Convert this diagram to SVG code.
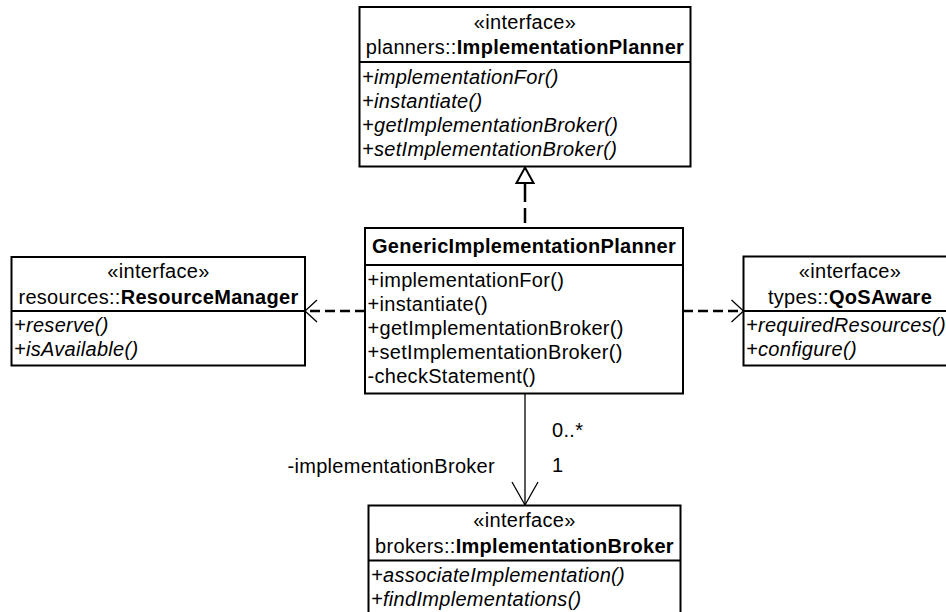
<svg xmlns="http://www.w3.org/2000/svg" width="946" height="612" viewBox="0 0 946 612">
  <style>
    .box { fill: #fff; stroke: #000; stroke-width: 2; }
    .sep { stroke: #000; stroke-width: 2; }
    text { font-family: "Liberation Sans", Arial, Helvetica, sans-serif; font-size: 20px; letter-spacing: 0.3px; fill: #000; }
    .c { text-anchor: middle; }
    .e { text-anchor: end; }
    .b { font-weight: bold; }
    .i { font-style: italic; }
    .dep { stroke: #000; stroke-width: 2.5; stroke-dasharray: 10 5; fill: none; }
    .real { stroke: #000; stroke-width: 2.5; stroke-dasharray: 19 6 15 99; fill: none; }
    .thin { stroke: #000; stroke-width: 1.3; fill: none; }
    .tri { fill: #fff; stroke: #000; stroke-width: 2; stroke-linejoin: miter; }
  </style>

  <!-- interface planners::ImplementationPlanner -->
  <g id="implementation-planner">
    <rect class="box" x="359.5" y="7" width="331" height="159.5"/>
    <line class="sep" x1="359.5" y1="62" x2="690.5" y2="62"/>
    <text class="c" x="525" y="28.5">«interface»</text>
    <text class="c" x="525" y="54">planners::<tspan class="b">ImplementationPlanner</tspan></text>
    <text class="i" x="362" y="83.5">+implementationFor()</text>
    <text class="i" x="362" y="107.5">+instantiate()</text>
    <text class="i" x="362" y="131.5">+getImplementationBroker()</text>
    <text class="i" x="362" y="155.5">+setImplementationBroker()</text>
  </g>

  <!-- class GenericImplementationPlanner -->
  <g id="generic-implementation-planner">
    <rect class="box" x="365" y="228" width="318" height="165.5"/>
    <line class="sep" x1="365" y1="265" x2="683" y2="265"/>
    <text class="c b" x="524" y="253">GenericImplementationPlanner</text>
    <text x="367.5" y="287">+implementationFor()</text>
    <text x="367.5" y="311">+instantiate()</text>
    <text x="367.5" y="335">+getImplementationBroker()</text>
    <text x="367.5" y="359">+setImplementationBroker()</text>
    <text x="367.5" y="383">-checkStatement()</text>
  </g>

  <!-- interface resources::ResourceManager -->
  <g id="resource-manager">
    <rect class="box" x="11.5" y="257" width="293.5" height="108.5"/>
    <line class="sep" x1="11.5" y1="311" x2="305" y2="311"/>
    <text class="c" x="158.5" y="278">«interface»</text>
    <text class="c" x="158.5" y="304">resources::<tspan class="b">ResourceManager</tspan></text>
    <text class="i" x="14" y="332">+reserve()</text>
    <text class="i" x="14" y="356">+isAvailable()</text>
  </g>

  <!-- interface types::QoSAware -->
  <g id="qos-aware">
    <rect class="box" x="743.5" y="256.5" width="213.5" height="109"/>
    <line class="sep" x1="743.5" y1="311" x2="957" y2="311"/>
    <text class="c" x="850" y="278">«interface»</text>
    <text class="c" x="850" y="304">types::<tspan class="b">QoSAware</tspan></text>
    <text class="i" x="746" y="332">+requiredResources()</text>
    <text class="i" x="746" y="356">+configure()</text>
  </g>

  <!-- interface brokers::ImplementationBroker -->
  <g id="implementation-broker">
    <rect class="box" x="368.5" y="505.5" width="312" height="120"/>
    <line class="sep" x1="368.5" y1="560.5" x2="680.5" y2="560.5"/>
    <text class="c" x="524.5" y="526.5">«interface»</text>
    <text class="c" x="524.5" y="552.5">brokers::<tspan class="b">ImplementationBroker</tspan></text>
    <text class="i" x="371" y="581.5">+associateImplementation()</text>
    <text class="i" x="371" y="605.5">+findImplementations()</text>
  </g>

  <!-- connectors -->
  <g id="connectors">
    <!-- realization: GenericImplementationPlanner implements ImplementationPlanner -->
    <line class="real" x1="525" y1="183" x2="525" y2="228"/>
    <polygon class="tri" points="525,167.5 533.5,183 516.5,183"/>

    <!-- dependency on ResourceManager -->
    <line class="dep" x1="365" y1="311" x2="306" y2="311"/>
    <polyline class="thin" points="317,300 305,311 317,322"/>

    <!-- dependency on QoSAware -->
    <line class="dep" x1="683" y1="311" x2="742.5" y2="311"/>
    <polyline class="thin" points="731.5,300 743.5,311 731.5,322"/>

    <!-- directed association to ImplementationBroker -->
    <line class="thin" x1="525" y1="393.5" x2="525" y2="505"/>
    <polyline class="thin" points="512,482 525,505 538,482"/>
    <text x="552" y="437">0..*</text>
    <text x="552" y="472">1</text>
    <text class="e" x="495" y="473">-implementationBroker</text>
  </g>
</svg>
